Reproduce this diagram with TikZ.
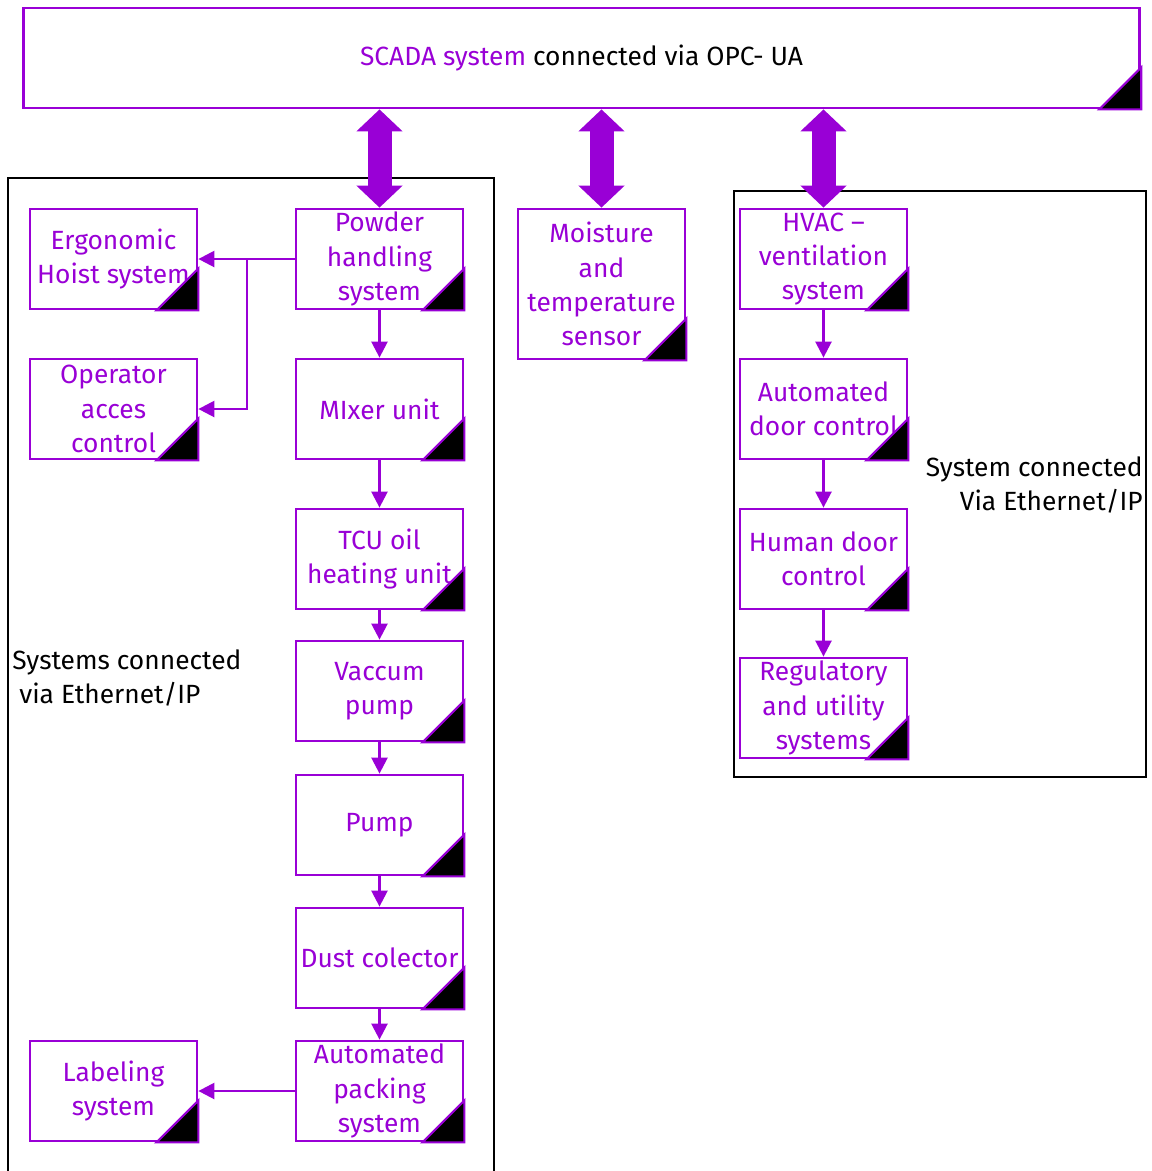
\documentclass[tikz,border=0pt]{standalone}
\usepackage{fontspec}
\setmainfont{Fira Sans}
\usetikzlibrary{arrows.meta}
\definecolor{scadapurple}{RGB}{153,0,214}
\tikzset{
  unit/.style={draw=scadapurple, line width=1.6pt, text=scadapurple, fill=white,
    minimum width=3.34cm, minimum height=2cm, align=center, inner sep=0pt,
    font=\fontsize{15}{19.5}\selectfont},
  link/.style={draw=scadapurple, line width=1.4pt, -{Triangle[length=0.32cm,width=0.32cm]}},
  bus/.style={draw=scadapurple, line width=0.48cm,
    {Triangle[length=0.44cm,width=0.9cm]}-{Triangle[length=0.44cm,width=0.9cm]}},
  sysframe/.style={draw=black, line width=1.6pt},
  note/.style={font=\fontsize{15}{19.5}\selectfont, inner sep=0pt},
}
\begin{document}
\begin{tikzpicture}[x=0.02cm, y=-0.02cm]
    \useasboundingbox (0,0) rectangle (1152,1171);
    % frames round the two groups
    \draw[sysframe] (8,1180) -- (8,178) -- (494,178) -- (494,1180);
    \draw[sysframe] (734,191) rectangle (1146,777);
    % top system
    \node[unit, minimum width=22.34cm] (scada) at (581.5,58)
        {\textcolor{scadapurple}{SCADA system}\ \textcolor{black}{connected via OPC- UA}};
    % left group
    \node[unit] (ergo) at (113.5,259) {Ergonomic\\Hoist system};
    \node[unit] (operator) at (113.5,409) {Operator\\acces\\control};
    \node[unit] (powder) at (379.5,259) {Powder\\handling\\system};
    \node[unit] (mixer) at (379.5,409) {MIxer unit};
    \node[unit] (tcu) at (379.5,559) {TCU oil\\heating unit};
    \node[unit] (vaccum) at (379.5,691) {Vaccum\\pump};
    \node[unit] (pump) at (379.5,825) {Pump};
    \node[unit] (dust) at (379.5,958) {Dust colector};
    \node[unit] (packing) at (379.5,1091) {Automated\\packing\\system};
    \node[unit] (labeling) at (113.5,1091) {Labeling\\system};
    % middle
    \node[unit, minimum height=3cm] (moisture) at (601.5,284) {Moisture\\and\\temperature\\sensor};
    % right group
    \node[unit] (hvac) at (823.5,259) {HVAC --\\ventilation\\system};
    \node[unit] (autodoor) at (823.5,409) {Automated\\door control};
    \node[unit] (humandoor) at (823.5,559) {Human door\\control};
    \node[unit] (regulatory) at (823.5,708) {Regulatory\\and utility\\systems};
    % corner marks
    \foreach \n in {scada,ergo,operator,powder,mixer,tcu,vaccum,pump,dust,packing,labeling,moisture,hvac,autodoor,humandoor,regulatory}
        \filldraw[fill=black, draw=scadapurple, line width=1.2pt]
            (\n.south east) -- ++(-42,0) -- ++(42,-42) -- cycle;
    % notes
    \node[note, anchor=west, align=left] (leftnote) at (12,678)
        {Systems connected\\\hspace{0.14cm}via Ethernet/IP};
    \node[note, anchor=east, align=right] (rightnote) at (1143,485)
        {System connected\\Via Ethernet/IP};
    % OPC-UA links
    \draw[bus] (powder.north |- scada.south) -- (powder.north);
    \draw[bus] (moisture.north |- scada.south) -- (moisture.north);
    \draw[bus] (hvac.north |- scada.south) -- (hvac.north);
    % chains
    \coordinate (split) at (247,259);
    \draw[link] (powder.west) -- (ergo.east);
    \draw[link] (split) |- (operator.east);
    \draw[link] (powder) -- (mixer);
    \draw[link] (mixer) -- (tcu);
    \draw[link] (tcu) -- (vaccum);
    \draw[link] (vaccum) -- (pump);
    \draw[link] (pump) -- (dust);
    \draw[link] (dust) -- (packing);
    \draw[link] (packing) -- (labeling);
    \draw[link] (hvac) -- (autodoor);
    \draw[link] (autodoor) -- (humandoor);
    \draw[link] (humandoor) -- (regulatory);
\end{tikzpicture}
\end{document}
